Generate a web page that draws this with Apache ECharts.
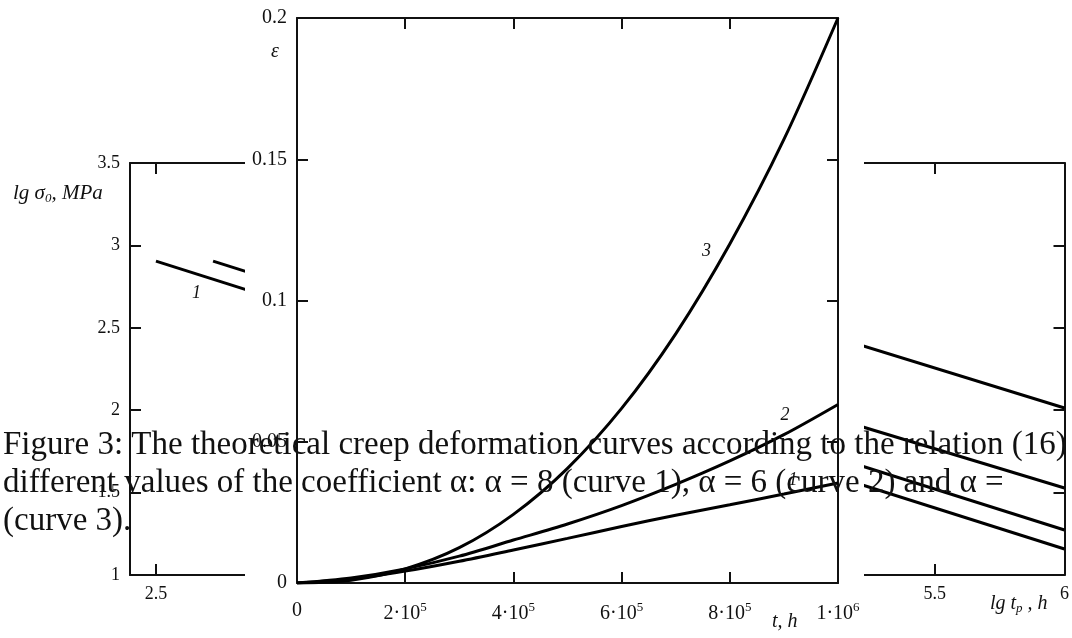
<!DOCTYPE html>
<html>
<head>
<meta charset="utf-8">
<script src="https://cdn.jsdelivr.net/npm/echarts@6/dist/echarts.min.js"></script>
<style>
  html, body { margin: 0; padding: 0; background: #fff; }
  #main { width: 1072px; height: 638px; }
</style>
</head>
<body>
<div id="main"></div>
<script>
// creep deformation eps(t), t in hours
var tValues = [0, 1e5, 2e5, 3e5, 4e5, 5e5, 6e5, 7e5, 8e5, 9e5, 1e6];
var curve1 = [0, 0.0014, 0.0042, 0.0077, 0.0117, 0.0158, 0.0200, 0.0240, 0.0277, 0.0315, 0.0354];
var curve2 = [0, 0.0018, 0.0050, 0.0095, 0.0152, 0.0209, 0.0274, 0.0349, 0.0432, 0.0525, 0.0632];
var curve3 = [0, 0.0010, 0.0050, 0.0125, 0.0243, 0.0406, 0.0618, 0.0882, 0.1200, 0.1570, 0.2000];
var curveNames = ['1', '2', '3'];
var curveLabelAt = [[917000, 0.0365], [902000, 0.0595], [757000, 0.1173]];

// long-term strength lines lg sigma0 vs lg tp (background plot)
var bgLine1 = [[2.5, 2.905], [6.0, 1.158]];
var bgLine2 = [[2.72, 2.905], [6.0, 1.273]];
var bgLine3 = [[3.2, 2.863], [6.0, 1.528]];
var bgLine4 = [[4.2, 2.888], [6.0, 2.013]];
var bgLabelAt = [2.656, 2.711];
var lgTpTicks = [2.5, 3, 3.5, 4, 4.5, 5, 5.5, 6];

var serif = '"Liberation Serif", "Times New Roman", serif';
var ink = '#111';

function pairs(xs, ys) {
    return xs.map(function (x, i) { return [x, ys[i]]; });
}

var chart = echarts.init(document.getElementById('main'));

function frameAxis(grid, pos, extra, z) {
    var a = {
        type: 'value',
        gridIndex: grid,
        position: pos,
        z: z,
        axisLine: { show: true, onZero: false, lineStyle: { color: ink, width: 2 } },
        axisTick: { show: true, inside: true, length: 11, lineStyle: { color: ink, width: 2 } },
        axisLabel: { show: false },
        splitLine: { show: false }
    };
    for (var k in extra) a[k] = extra[k];
    return a;
}

var bgXLabel = { show: true, margin: 10, color: ink, fontFamily: serif, fontSize: 18, customValues: lgTpTicks };
var fgXLabel = {
    show: true, margin: 18, color: ink, fontFamily: serif, fontSize: 20,
    formatter: function (v) {
        if (v === 0) return '0';
        var e = v >= 1e6 ? 6 : 5;
        return Math.round(v / Math.pow(10, e)) + '·10{sup|' + e + '}';
    },
    rich: { sup: { fontSize: 13, fontFamily: serif, color: ink, verticalAlign: 'top', padding: [0, 0, 12, 0] } }
};

function curveSeries(i, data) {
    return {
        type: 'line', xAxisIndex: 2, yAxisIndex: 2, z: 5,
        smooth: 0.3, symbol: 'none',
        lineStyle: { color: '#000', width: 3 },
        data: data,
        markPoint: {
            symbol: 'circle', symbolSize: 0, silent: true,
            label: { show: true, position: 'inside', formatter: curveNames[i], color: ink, fontFamily: serif, fontStyle: 'italic', fontSize: 18 },
            data: [{ coord: curveLabelAt[i] }]
        }
    };
}

function bgSeries(data, lbl) {
    var s = {
        type: 'line', xAxisIndex: 0, yAxisIndex: 0, z: 2,
        symbol: 'none',
        lineStyle: { color: '#000', width: 3 },
        data: data
    };
    if (lbl) {
        s.markPoint = {
            symbol: 'circle', symbolSize: 0, silent: true,
            label: { show: true, position: 'inside', formatter: '1', color: ink, fontFamily: serif, fontStyle: 'italic', fontSize: 18 },
            data: [{ coord: bgLabelAt }]
        };
    }
    return s;
}

var option = {
    backgroundColor: '#fff',
    animation: false,
    grid: [
        { left: 130, top: 163, width: 937, height: 412 },
        { left: 297, top: 18, width: 541, height: 565 }
    ],
    xAxis: [
        frameAxis(0, 'bottom', { min: 2.4, max: 6, axisTick: { show: true, inside: true, length: 11, customValues: lgTpTicks, lineStyle: { color: ink, width: 2 } }, axisLabel: bgXLabel }, 1),
        frameAxis(0, 'top', { min: 2.4, max: 6, axisTick: { show: true, inside: true, length: 11, customValues: lgTpTicks, lineStyle: { color: ink, width: 2 } } }, 1),
        frameAxis(1, 'bottom', { min: 0, max: 1e6, interval: 2e5, axisLabel: fgXLabel }, 4),
        frameAxis(1, 'top', { min: 0, max: 1e6, interval: 2e5 }, 4)
    ],
    yAxis: [
        frameAxis(0, 'left', { min: 1, max: 3.5, interval: 0.5, axisLabel: { show: true, margin: 10, color: ink, fontFamily: serif, fontSize: 18 } }, 1),
        frameAxis(0, 'right', { min: 1, max: 3.5, interval: 0.5 }, 1),
        frameAxis(1, 'left', { min: 0, max: 0.2, interval: 0.05, axisLabel: { show: true, margin: 10, color: ink, fontFamily: serif, fontSize: 20 } }, 4),
        frameAxis(1, 'right', { min: 0, max: 0.2, interval: 0.05 }, 4)
    ],
    graphic: [
        // white panel of the front plot hides the plot behind it
        { type: 'rect', z: 3, shape: { x: 245, y: 0, width: 619, height: 638 }, style: { fill: '#fff' } },
        {
            type: 'text', z: 4, left: 13, top: 183,
            style: {
                text: 'lg σ{sub|0}, MPa', fill: ink, font: 'italic 21px ' + serif,
                rich: { sub: { fontSize: 13, fontStyle: 'italic', fontFamily: serif, verticalAlign: 'bottom', padding: [10, 0, 0, 0] } }
            }
        },
        {
            type: 'text', z: 4, left: 990, top: 594,
            style: {
                text: 'lg t{sub|p} , h', fill: ink, font: 'italic 20px ' + serif,
                rich: { sub: { fontSize: 13, fontStyle: 'italic', fontFamily: serif, verticalAlign: 'bottom', padding: [10, 0, 0, 0] } }
            }
        },
        { type: 'text', z: 6, left: 271, top: 42, style: { text: 'ε', fill: ink, font: 'italic 20px ' + serif } },
        { type: 'text', z: 6, left: 772, top: 612, style: { text: 't, h', fill: ink, font: 'italic 20px ' + serif } },
        {
            type: 'text', z: 10, left: 3, top: 426,
            style: {
                text: 'Figure 3: The theoretical creep deformation curves according to the relation (16) for\n' +
                      'different values of the coefficient α: α = 8 (curve 1), α = 6 (curve 2) and α =\n' +
                      '(curve 3).',
                fill: '#111', font: '33px ' + serif, lineHeight: 38
            }
        }
    ],
    series: [
        bgSeries(bgLine1, true),
        bgSeries(bgLine2),
        bgSeries(bgLine3),
        bgSeries(bgLine4),
        curveSeries(0, pairs(tValues, curve1)),
        curveSeries(1, pairs(tValues, curve2)),
        curveSeries(2, pairs(tValues, curve3))
    ]
};

chart.setOption(option);
</script>
</body>
</html>
